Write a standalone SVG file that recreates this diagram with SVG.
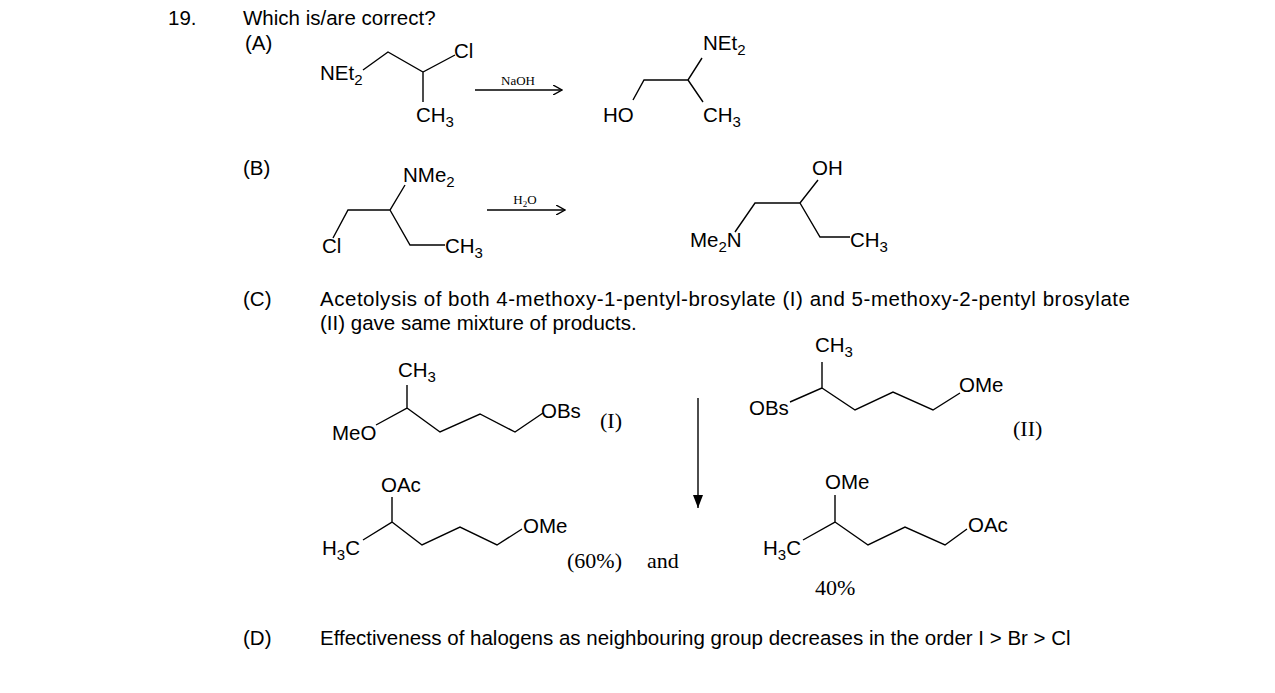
<svg xmlns="http://www.w3.org/2000/svg" width="1275" height="693" viewBox="0 0 1275 693">
<style>
text{font-family:"Liberation Sans",Arial,sans-serif;font-size:20.5px;fill:#000}
.s{font-family:"Liberation Serif","Times New Roman",serif;font-size:22px}
.r{font-family:"Liberation Serif","Times New Roman",serif;font-size:13px}
.b{fill:none;stroke:#000;stroke-width:1.4}
.sub{font-size:15px}
</style>
<defs><marker id="ah" markerWidth="10" markerHeight="10" refX="9" refY="5" orient="auto" markerUnits="userSpaceOnUse"><path d="M0,0 L9,5 L0,10" fill="none" stroke="#000" stroke-width="1.4"/></marker>
<marker id="ahf" markerWidth="14" markerHeight="10" refX="13" refY="5" orient="auto" markerUnits="userSpaceOnUse"><path d="M0,0 L13,5 L0,10Z" fill="#000"/></marker></defs>
<rect width="1275" height="693" fill="#fff"/>
<g id="header"><text x="168" y="25">19.</text><text x="243" y="25">Which is/are correct?</text>
<text x="245" y="50">(A)</text><text x="243" y="175">(B)</text><text x="243" y="306">(C)</text><text x="243" y="645">(D)</text></g>
<g id="A-reactant"><path class="b" d="M363,70 L388,52 L423,72 L455,55 M423,72 L423,102"/>
<text x="320" y="80">NEt<tspan class="sub" dy="5">2</tspan></text><text x="454" y="58">Cl</text><text x="416" y="122">CH<tspan class="sub" dy="5">3</tspan></text></g>
<g id="A-product"><path class="b" d="M633,100 L644,80 L688,80 L702,58 M688,80 L703,102"/>
<text x="603" y="122">HO</text><text x="703" y="50">NEt<tspan class="sub" dy="5">2</tspan></text><text x="703" y="122">CH<tspan class="sub" dy="5">3</tspan></text></g>
<g id="B-reactant"><path class="b" d="M333,238 L348,210 L390,210 L405,185 M390,210 L410,245 L445,245"/>
<text x="322" y="253">Cl</text><text x="403" y="182">NMe<tspan class="sub" dy="5">2</tspan></text><text x="445" y="253">CH<tspan class="sub" dy="5">3</tspan></text></g>
<g id="B-product"><path class="b" d="M735,232 L755,203 L800,203 L818,180 M800,203 L820,237 L850,237"/>
<text x="690" y="247">Me<tspan class="sub" dy="5">2</tspan><tspan dy="-5">N</tspan></text><text x="812" y="175">OH</text><text x="850" y="247">CH<tspan class="sub" dy="5">3</tspan></text></g>
<g id="C-text"><text x="320" y="306" textLength="810">Acetolysis of both 4-methoxy-1-pentyl-brosylate (I) and 5-methoxy-2-pentyl brosylate</text><text x="320" y="330">(II) gave same mixture of products.</text></g>
<g id="I"><path class="b" d="M376,425 L407,408 L407,385 M407,408 L440,432 L480,414 L515,432 L543,413"/>
<text x="541" y="418">OBs</text><text x="398" y="377">CH<tspan class="sub" dy="5">3</tspan></text><text x="332" y="440">MeO</text><text class="s" x="600" y="428">(I)</text></g>
<g id="II"><path class="b" d="M790,402 L822,388 L822,362 M822,388 L855,410 L893,392 L933,410 L960,393"/>
<text x="749" y="415">OBs</text><text x="815" y="352">CH<tspan class="sub" dy="5">3</tspan></text><text x="959" y="392">OMe</text><text class="s" x="1013" y="436">(II)</text></g>
<g id="P1"><path class="b" d="M363,540 L392,522 L392,497 M392,522 L422,545 L460,527 L497,545 L522,529"/>
<text x="381" y="492">OAc</text><text x="322" y="555">H<tspan class="sub" dy="5">3</tspan><tspan dy="-5">C</tspan></text><text x="523" y="533">OMe</text><text class="s" x="567" y="568">(60%)</text><text class="s" x="647" y="568">and</text></g>
<g id="P2"><path class="b" d="M803,540 L835,522 L835,495 M835,522 L868,545 L905,527 L945,545 L967,529"/>
<text x="825" y="489">OMe</text><text x="763" y="555">H<tspan class="sub" dy="5">3</tspan><tspan dy="-5">C</tspan></text><text x="968" y="532">OAc</text><text class="s" x="815" y="595">40%</text></g>
<g id="connectors">
<path class="b" d="M475,90 L562,90" marker-end="url(#ah)"/><text class="r" x="518" y="85" text-anchor="middle">NaOH</text>
<path class="b" d="M487,210 L565,210" marker-end="url(#ah)"/><text class="r" x="525" y="204" text-anchor="middle">H<tspan style="font-size:9px" dy="3">2</tspan><tspan dy="-3">O</tspan></text>
<path class="b" d="M698,398 L698,508" marker-end="url(#ahf)"/>
</g>
<g id="D"><text x="320" y="645">Effectiveness of halogens as neighbouring group decreases in the order I &gt; Br &gt; Cl</text></g>
</svg>
